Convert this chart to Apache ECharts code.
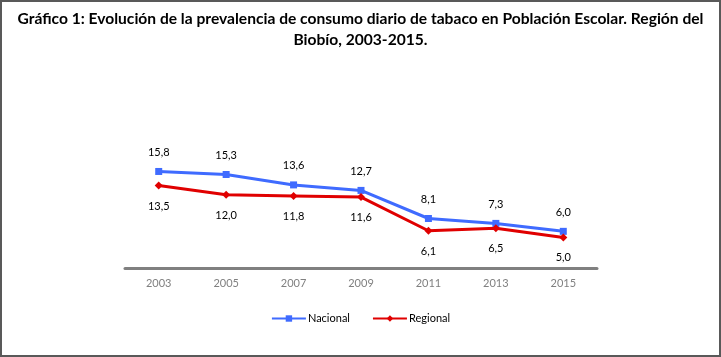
<!DOCTYPE html>
<html><head><meta charset="utf-8">
<script src="https://cdn.jsdelivr.net/npm/echarts@6/dist/echarts.min.js"></script>
<style>html,body{margin:0;padding:0;background:#fff}#c{width:721px;height:357px}</style>
</head><body><div id="c"></div>
<script>
const years = ['2003','2005','2007','2009','2011','2013','2015'];
const nacional = [15.8, 15.3, 13.6, 12.7, 8.1, 7.3, 6.0];
const regional = [13.5, 12.0, 11.8, 11.6, 6.1, 6.5, 5.0];
const fmt = p => p.value.toFixed(1).replace('.', ',');
const chart = echarts.init(document.getElementById('c'));
chart.setOption({
  animation: false,
  backgroundColor: '#fff',
  graphic: [{type:'rect', shape:{x:1,y:1,width:719,height:355}, style:{fill:'none', stroke:'#595959', lineWidth:2}, z:100}],
  title: {
    text: 'Gráfico 1: Evolución de la prevalencia de consumo diario de tabaco en Población Escolar. Región del\nBiobío, 2003-2015.',
    left: 'center', top: 3,
    textStyle: {fontFamily: 'Lato', fontWeight: 'bold', fontSize: 15.6, lineHeight: 21, color: '#000'}
  },
  legend: {
    bottom: 28, left: 'center', itemWidth: 34, itemHeight: 8, itemGap: 22,
    textStyle: {fontFamily: 'Lato', fontSize: 11, color: '#000', padding: [0,0,0,-3]},
    data: ['Nacional', 'Regional']
  },
  grid: {left: 125, right: 124, top: 145.8, bottom: 89},
  xAxis: {
    type: 'category', data: years, boundaryGap: true,
    axisLine: {lineStyle: {color: '#808080', width: 3}},
    axisTick: {show: false},
    axisLabel: {color: '#808080', fontFamily: 'Lato', fontSize: 11, margin: 10}
  },
  yAxis: {type: 'value', min: 0, max: 20, show: false, splitLine: {show: false}},
  series: [
    {name: 'Nacional', type: 'line', data: nacional, color: '#3F6BFF',
     lineStyle: {width: 3}, symbol: 'rect', symbolSize: 7,
     label: {show: true, position: 'top', distance: 10, formatter: fmt, fontFamily: 'Lato', fontSize: 11, color: '#000'}},
    {name: 'Regional', type: 'line', data: regional, color: '#E00000',
     lineStyle: {width: 3}, symbol: 'diamond', symbolSize: 8,
     label: {show: true, position: 'bottom', distance: 11, formatter: fmt, fontFamily: 'Lato', fontSize: 11, color: '#000'}}
  ]
});
</script></body></html>
